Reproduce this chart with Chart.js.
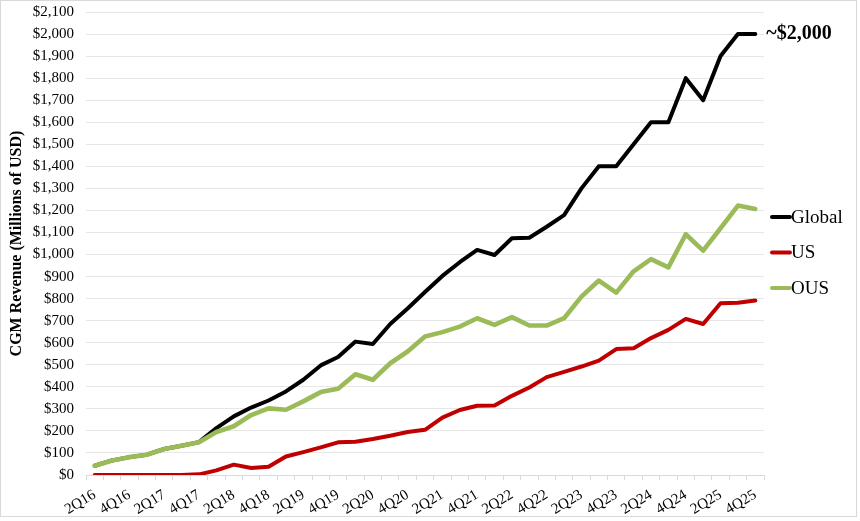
<!DOCTYPE html>
<html>
<head>
<meta charset="utf-8">
<script src="https://cdn.jsdelivr.net/npm/chart.js@4.4.1/dist/chart.umd.min.js"></script>
<style>
  html, body { margin: 0; padding: 0; background: #fff; }
  #wrap { width: 860px; height: 521px; position: relative; }
</style>
</head>
<body>
<div id="wrap"><canvas id="cgmChart"></canvas></div>
<script>
// quarters on the x axis (every other one gets a label)
var quarters = ['2Q16','3Q16','4Q16','1Q17','2Q17','3Q17','4Q17','1Q18','2Q18','3Q18','4Q18',
	'1Q19','2Q19','3Q19','4Q19','1Q20','2Q20','3Q20','4Q20','1Q21','2Q21','3Q21','4Q21',
	'1Q22','2Q22','3Q22','4Q22','1Q23','2Q23','3Q23','4Q23','1Q24','2Q24','3Q24','4Q24',
	'1Q25','2Q25','3Q25','4Q25'];

// revenue in millions of USD
var globalRev = [42, 66, 81, 92, 118, 133, 149, 213, 266, 306, 338, 379, 432, 497, 535, 605, 594, 685, 755,
	830, 903, 965, 1021, 998, 1074, 1076, 1126, 1179, 1300, 1400, 1400, 1500, 1600, 1600, 1800, 1700, 1900, 2000, 2000];
var usRev = [0, 0, 0, 0, 0, 0, 3, 21, 47, 32, 37, 84, 104, 125, 148, 151, 163, 178, 195,
	205, 260, 295, 314, 315, 359, 397, 444, 468, 492, 519, 571, 575, 621, 658, 708, 685, 779, 781, 791];
var ousRev = [42, 66, 81, 92, 118, 133, 149, 195, 221, 272, 302, 296, 334, 376, 391, 457, 432, 507, 560,
	628, 648, 673, 711, 681, 716, 678, 678, 711, 809, 882, 827, 924, 979, 942, 1092, 1018, 1119, 1222, 1207];

var seriesNames = ['Global', 'US', 'OUS'];
var seriesColors = ['#000000', '#c00000', '#9bbb59'];
var endNote = '~$2,000';

var serif = '"Liberation Serif", "DejaVu Serif", serif';

// legend on the right + note next to the last Global point + frame around the chart
var extrasPlugin = {
	id: 'extras',
	afterDraw: function(chart) {
		var ctx = chart.ctx;
		ctx.save();

		// light frame like the excel chart area
		ctx.strokeStyle = '#d9d9d9';
		ctx.lineWidth = 1;
		ctx.strokeRect(0.5, 0.5, 856, 516);

		// note at the end of the Global line
		var meta = chart.getDatasetMeta(0);
		var last = meta.data[meta.data.length - 1];
		ctx.fillStyle = '#000';
		ctx.font = 'bold 20px ' + serif;
		ctx.textAlign = 'left';
		ctx.textBaseline = 'middle';
		ctx.fillText(endNote, last.x + 11, last.y);

		// legend
		var x0 = chart.chartArea.right + 6;
		var y0 = 217;
		ctx.font = '19px ' + serif;
		chart.data.datasets.forEach(function(ds, i) {
			var y = y0 + i * 35.5;
			ctx.strokeStyle = ds.borderColor;
			ctx.lineWidth = 4;
			ctx.lineCap = 'round';
			ctx.beginPath();
			ctx.moveTo(x0 + 2, y);
			ctx.lineTo(x0 + 20, y);
			ctx.stroke();
			ctx.fillStyle = '#000';
			ctx.fillText(ds.label, x0 + 21, y + 1);
		});
		ctx.restore();
	}
};

function makeDataset(idx, values, drawOrder, width) {
	return {
		label: seriesNames[idx],
		data: values,
		borderColor: seriesColors[idx],
		backgroundColor: seriesColors[idx],
		borderWidth: width,
		pointRadius: 0,
		tension: 0,
		borderJoinStyle: 'round',
		borderCapStyle: 'round',
		order: drawOrder
	};
}

document.addEventListener('DOMContentLoaded', function()
{
	var ctx = document.getElementById('cgmChart').getContext('2d');
	new Chart(ctx, {
		type: 'line',
		data: {
			labels: quarters,
			datasets: [
				makeDataset(0, globalRev, 3, 4),
				makeDataset(1, usRev, 2, 4),
				makeDataset(2, ousRev, 1, 4.6) // a bit wider so the black underneath does not bleed
			]
		},
		options: {
			responsive: true,
			maintainAspectRatio: false,
			animation: false,
			devicePixelRatio: 1,
			layout: {
				padding: { left: 0, top: 12, right: 96, bottom: 0 }
			},
			plugins: {
				legend: { display: false },
				tooltip: { enabled: false }
			},
			scales: {
				x: {
					offset: true,
					grid: {
						offset: true,
						drawOnChartArea: false,
						drawTicks: true,
						tickLength: 5,
						color: '#d9d9d9'
					},
					border: { display: true, color: '#d9d9d9', width: 1 },
					ticks: {
						autoSkip: false,
						minRotation: 31,
						maxRotation: 31,
						padding: 6,
						color: '#000',
						font: { family: serif, size: 15 },
						callback: function(value, index) {
							return index % 2 === 0 ? this.getLabelForValue(value) : '';
						}
					},
					afterFit: function(scale) { scale.height = 46; }
				},
				y: {
					min: 0,
					max: 2100,
					grid: {
						color: '#e6e6e6',
						drawTicks: false
					},
					border: { display: false },
					ticks: {
						stepSize: 100,
						padding: 12,
						color: '#000',
						font: { family: serif, size: 15 },
						callback: function(value) {
							return '$' + value.toLocaleString('en-US');
						}
					},
					title: {
						display: true,
						text: 'CGM Revenue (Millions of USD)',
						color: '#000',
						font: { family: serif, size: 16, weight: 'bold' },
						padding: { top: 7, bottom: 0 }
					},
					afterFit: function(scale) {
						scale.width = 86;
						scale.paddingTop = 0;
						scale.paddingBottom = 0;
					}
				}
			}
		},
		plugins: [extrasPlugin]
	});
});
</script>
</body>
</html>
